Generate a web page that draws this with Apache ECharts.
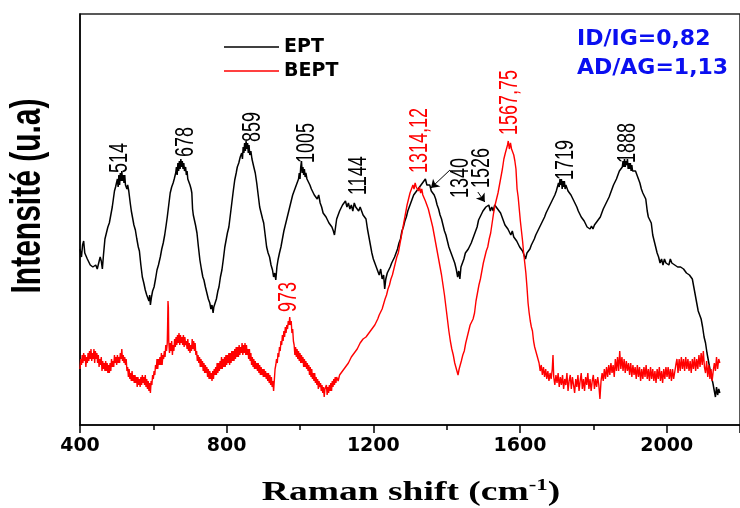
<!DOCTYPE html>
<html>
<head>
<meta charset="utf-8">
<script src="https://cdn.jsdelivr.net/npm/echarts@6/dist/echarts.min.js"></script>
<style>
  html, body { margin: 0; padding: 0; background: #fff; }
  #chart { width: 740px; height: 508px; }
</style>
</head>
<body>
<div id="chart"></div>
<script>
// Raman spectra: [shift (cm-1), intensity (a.u.)]
const ept = [
  [400,176],[404,168],[407,180],[410,184],[413,172],[416,170],[420,166],[424,164],[428,160],[431,162],
  [435,158],[439,156],[443,160],[447,156],[451,162],[455,168],[458,164],[461,156],[464,170],[468,186],
  [472,192],[476,198],[480,202],[484,210],[488,218],[491,226],[494,234],[497,238],[500,236],[502,246],
  [504,238],[506,250],[508,240],[510,252],[512,244],[514,254],[516,244],[518,250],[520,242],[522,250],
  [524,240],[526,242],[528,236],[530,240],[533,234],
  [537,222],[540,214],[543,208],[547,200],[551,195],[555,186],[559,178],[562,174],[566,160],[570,148],
  [574,142],[578,135],[582,130],[585,132],[588,124],[590,130],[592,120],[595,128],[598,134],[602,138],
  [606,146],[610,155],[614,160],[619,168],[623,176],[627,182],[631,190],[635,200],[638,208],[642,220],
  [646,232],[650,238],[654,242],[657,246],[661,252],[663,258],[665,250],[667,262],[669,254],[671,264],
  [673,256],[675,266],[677,258],[679,264],[681,256],[683,262],[685,254],[688,258],[690,250],[692,254],
  [694,246],[696,248],[700,240],[703,236],[705,232],[707,216],
  [709,210],[711,208],[715,200],[719,192],[723,178],[727,165],[731,156],[735,148],[738,145],[742,138],
  [746,132],[750,126],[754,122],[757,116],[760,120],[763,112],[765,118],[768,120],[772,126],[776,134],
  [779,138],[783,148],[787,155],[791,166],[795,178],[799,186],[802,192],[806,198],[810,210],[814,222],
  [818,234],[822,245],[826,252],[829,258],[833,262],[837,268],[841,272],[843,266],[845,278],[847,272],
  [849,282],[851,274],[853,284],[855,276],[857,282],[859,272],[861,280],[863,270],[866,274],[869,266],
  [872,266],[874,258],[878,252],[882,242],[886,230],
  [890,218],[894,212],[898,206],[901,202],[905,190],[909,178],[913,172],[917,168],[921,160],[925,155],
  [928,148],[931,152],[934,145],[937,158],[940,165],[944,172],[948,178],[952,186],[956,194],[960,200],
  [964,206],[968,212],[972,218],[976,224],[980,230],[984,234],[988,238],[992,242],[996,246],[998,252],
  [1000,246],[1002,258],[1004,264],[1006,252],[1008,258],[1010,250],[1012,256],[1014,248],[1016,252],
  [1019,246],[1023,244],[1027,240],[1031,236],
  [1035,238],[1039,230],[1043,232],[1047,226],[1051,230],[1055,222],[1059,218],[1063,212],[1067,214],[1071,208],
  [1075,206],[1079,202],[1083,204],[1087,198],[1091,194],[1094,190],[1097,198],[1100,206],[1104,210],[1108,214],
  [1112,212],[1116,220],[1120,218],[1124,224],[1128,218],[1132,222],[1136,216],[1140,220],[1144,214],[1148,222],
  [1152,218],[1156,220],[1160,214],[1164,218],[1168,214],[1172,210],[1176,212],[1180,206],[1184,196],[1188,188],
  [1192,180],[1196,172],[1200,166],[1204,162],[1208,158],[1212,154],[1216,150],[1220,156],[1224,146],[1228,150],
  [1231,136],[1234,146],[1238,152],[1242,150],[1246,158],[1250,162],[1254,164],[1258,168],[1262,170],[1266,176],
  [1270,182],[1274,186],[1278,194],[1282,198],[1286,204],[1290,208],[1294,214],[1298,216],[1302,222],[1306,224],
  [1310,230],[1314,228],[1318,234],[1322,232],[1326,238],[1330,236],[1334,242],[1338,240],[1342,246],[1346,240],
  [1350,238],[1354,240],[1358,234],[1362,235],[1366,230],[1370,226],[1374,220],[1378,216],[1382,210],[1386,206],
  [1390,200],[1394,194],[1398,190],[1402,184],[1406,178],[1410,176],[1414,170],[1418,168],[1422,162],[1426,156],
  [1430,148],[1433,154],[1436,146],[1439,158],[1443,162],[1447,166],[1451,172],[1455,170],[1459,176],[1463,178],
  [1467,182],[1471,184],[1475,190],[1479,192],[1483,198],[1487,205],[1491,208],[1495,210],[1499,214],[1503,212],
  [1507,218],[1511,216],[1515,220],[1519,214],[1523,218],[1527,214],[1531,220],[1535,218],[1539,216],[1543,214],
  [1547,212],[1551,208],[1555,206],[1559,200],[1563,202],[1567,196],[1571,198],[1575,190],[1579,194],[1583,188],
  [1587,190],[1591,184],[1595,186],[1599,178],[1603,180],[1607,174],[1611,176],[1615,166],[1619,172],[1623,174],
  [1627,176],[1631,180],[1635,182],[1639,186],[1643,190],[1647,192],[1651,196],[1655,198],[1659,202],[1663,204],
  [1667,208],[1671,212],[1675,214],[1679,218],[1683,218],[1687,224],[1691,226],[1695,230],[1699,234],[1703,236],
  [1705,242],[1707,238],[1709,246],[1711,240],[1713,246],[1715,236],[1717,244],[1719,238],[1721,244],[1723,236],
  [1725,240],[1728,238],[1731,234],[1735,232],[1739,230],[1743,228],
  [1747,224],[1751,222],[1755,218],[1759,214],[1763,212],[1767,208],[1771,206],[1775,204],[1779,202],[1783,198],
  [1787,200],[1791,196],[1795,199],[1799,196],[1803,200],[1807,202],[1811,204],[1815,206],[1819,208],[1823,212],
  [1827,216],[1831,218],[1835,222],[1839,224],[1843,228],[1847,230],[1851,236],[1855,240],[1859,242],[1863,246],
  [1867,250],[1871,254],[1875,256],[1879,258],[1881,264],[1883,258],[1885,266],[1887,258],[1889,264],[1891,260],
  [1893,266],[1895,256],[1897,262],[1899,256],[1901,262],[1903,254],[1905,260],[1907,254],[1911,252],[1915,254],
  [1919,250],[1923,246],[1927,242],[1931,236],[1935,232],[1939,230],[1943,226],
  [1947,214],[1950,208],[1954,206],[1958,202],[1962,190],[1966,184],[1970,178],[1974,172],[1978,168],[1982,162],
  [1986,166],[1990,160],[1994,166],[1998,162],[2002,164],[2006,160],[2010,166],[2014,162],[2018,164],[2022,160],
  [2026,162],[2030,158],[2034,160],[2038,158],[2042,156],[2046,156],[2050,154],[2054,152],[2058,152],[2062,150],
  [2066,148],[2070,146],[2074,138],[2078,130],[2082,122],[2086,114],[2090,110],[2094,106],[2098,98],[2102,88],
  [2106,82],[2110,72],[2114,64],[2118,56],[2122,48],[2126,42],[2130,34],[2133,28],[2136,38],[2139,30],
  [2142,36],[2145,32]
];

const bept = [
  [400,56],[402,66],[404,60],[406,70],[408,62],[410,72],[412,64],[414,70],[416,58],[418,68],
  [420,62],[422,72],[424,64],[426,74],[428,66],[430,76],[432,64],[434,72],[436,66],[438,76],
  [440,62],[442,74],[444,66],[446,72],[448,62],[450,70],[452,58],[454,66],[456,60],[458,68],
  [460,54],[462,64],[464,56],[466,62],[468,54],[470,64],[472,54],[474,62],[476,52],[478,60],
  [480,52],[482,62],[484,54],[486,66],[488,58],[490,64],[492,58],[494,70],[496,62],[498,68],
  [500,60],[502,70],[504,62],[506,68],[508,62],[510,72],[512,66],[514,76],[516,64],[518,70],
  [520,62],[522,68],[524,60],[526,66],[528,54],[530,58],[532,48],[534,56],[536,46],[538,52],
  [540,44],[542,54],[544,44],[546,50],[548,42],[550,50],[552,42],[554,48],[556,38],[558,48],
  [560,40],[562,46],[564,38],[566,48],[568,40],[570,50],[572,42],[574,48],[576,40],[578,50],
  [580,38],[582,46],[584,36],[586,44],[588,34],[590,42],[592,32],[594,44],[596,40],[598,50],
  [600,46],[602,54],[604,50],[606,60],[608,56],[610,66],[612,56],[614,66],[616,60],[618,68],
  [620,60],[622,72],[624,60],[626,70],[628,66],[630,74],[632,68],[634,80],[636,74],[638,82],
  [639,100],[640,124],[641,118],[642,84],[644,72],[646,82],[648,74],[650,84],[652,70],[654,80],
  [656,74],[658,86],[660,78],[662,88],[664,80],[666,90],[668,82],[670,92],[672,80],[674,90],
  [676,82],[678,88],[680,80],[682,90],[684,78],[686,88],[688,80],[690,84],[692,76],[694,86],
  [696,74],[698,82],[700,72],[702,80],[704,74],[706,86],[708,76],[710,84],[712,74],[714,82],
  [716,70],[718,74],[720,64],[722,70],[724,62],[726,68],[728,58],[730,66],[732,58],[734,64],
  [736,54],[738,62],[740,52],[742,60],[744,52],[746,58],[748,48],[750,56],[752,46],[754,54],
  [756,46],[758,52],[760,44],[762,54],[764,46],[766,56],[768,50],[770,58],[772,50],[774,62],
  [776,52],[778,62],[780,54],[782,64],[784,56],[786,68],[788,56],[790,66],[792,58],[794,68],
  [796,58],[798,70],[800,60],[802,70],[804,62],[806,72],[808,60],[810,72],[812,62],[814,74],
  [816,64],[818,74],[820,64],[822,76],[824,66],[826,78],[828,68],[830,78],[832,68],[834,80],
  [836,70],[838,78],[840,72],[842,82],[844,70],[846,80],[848,72],[850,82],[852,70],[854,80],
  [856,70],[858,76],[860,66],[862,76],[864,64],[866,72],[868,60],[870,68],[872,58],[874,66],
  [876,56],[878,64],[880,56],[882,62],[884,54],[886,62],[888,52],[890,60],[892,50],[894,58],
  [896,50],[898,56],[900,48],[902,56],[904,48],[906,54],[908,46],[910,52],[912,44],[914,52],
  [916,42],[918,50],[920,40],[922,48],[924,38],[926,44],[928,34],[930,36],[932,56],[934,60],
  [936,66],[938,62],[940,72],[942,68],[944,78],[946,74],[948,84],[950,80],[952,90],[954,84],
  [956,94],[958,88],[960,98],[962,92],[964,100],[966,96],[968,104],[970,100],[972,108],[974,100],
  [976,104],[978,92],[980,96],[982,84],[984,80],[986,70],[988,78],[990,68],[992,76],[994,66],
  [996,74],[998,64],[1000,72],[1002,62],[1004,70],[1006,62],[1008,68],[1010,58],[1012,66],[1014,58],
  [1016,64],[1018,56],[1020,62],[1022,54],[1024,60],[1026,50],[1028,58],[1030,48],[1032,56],[1034,46],
  [1036,52],[1038,44],[1040,52],[1042,42],[1044,48],[1046,40],[1048,46],[1050,36],[1052,44],[1054,38],
  [1056,42],[1058,34],[1060,40],[1062,32],[1064,38],[1066,28],[1068,36],[1070,34],[1072,40],[1074,30],
  [1076,38],[1078,32],[1080,40],[1082,34],[1084,42],[1086,34],[1088,44],[1090,38],[1092,46],[1094,40],
  [1096,48],[1098,42],[1100,48],
  [1104,44],[1108,50],[1112,48],
  [1116,54],[1120,52],[1124,58],[1128,56],[1132,62],[1136,64],[1140,68],[1144,66],[1148,72],[1152,74],
  [1156,76],[1160,78],[1164,82],[1168,84],[1172,86],[1176,86],[1180,88],[1184,90],[1188,92],[1192,94],
  [1196,96],[1200,98],[1204,100],[1208,102],[1212,106],[1216,110],[1220,112],[1224,116],[1228,118],[1232,126],
  [1236,130],[1240,136],[1244,140],[1248,146],[1252,150],[1256,156],[1260,162],[1264,168],[1268,172],[1272,180],
  [1276,188],[1280,196],[1284,204],[1288,212],[1292,220],[1296,226],[1300,232],[1304,236],[1308,240],[1311,236],
  [1314,242],[1317,238],[1320,240],[1323,234],[1326,238],[1329,232],[1332,236],[1335,230],[1338,232],[1342,224],
  [1346,220],[1350,216],[1354,210],[1358,204],[1362,198],[1366,190],[1370,182],[1374,174],[1378,166],[1382,158],
  [1386,150],[1390,140],[1394,130],[1398,118],[1402,106],[1406,94],[1410,84],[1414,76],[1418,70],[1422,62],
  [1425,58],[1428,54],[1431,50],[1434,56],[1437,60],[1440,64],[1444,70],[1448,74],[1452,82],[1456,88],
  [1460,94],[1464,100],[1468,102],[1472,106],[1476,112],[1480,124],[1484,132],[1488,140],[1492,146],[1496,154],
  [1500,162],[1504,168],[1508,174],[1512,178],[1516,186],[1520,192],[1524,202],[1528,212],[1532,220],[1536,226],
  [1540,232],[1544,240],[1548,248],[1552,256],[1556,266],[1560,272],[1563,276],[1566,280],[1568,284],[1571,276],
  [1574,282],[1577,276],[1580,274],[1583,270],[1586,264],[1589,256],[1592,236],[1595,228],[1598,216],[1601,204],
  [1604,194],[1607,184],[1610,172],[1613,162],[1616,152],[1619,138],[1622,122],[1625,112],[1628,104],[1631,98],
  [1634,94],[1637,84],[1640,78],[1643,74],[1646,70],[1649,66],
  [1652,62],[1655,54],[1658,60],[1661,50],[1664,58],[1667,48],[1670,56],[1673,46],[1676,54],[1679,44],
  [1682,52],[1685,46],[1688,56],[1690,70],[1692,48],[1695,40],[1698,50],[1701,42],[1704,52],[1707,38],
  [1710,48],[1713,40],[1716,50],[1719,36],[1722,46],[1725,40],[1728,52],[1731,34],[1734,44],[1737,50],
  [1740,36],[1743,48],[1746,40],[1749,32],[1752,46],[1755,38],[1758,50],[1761,34],[1764,44],[1767,52],
  [1770,36],[1773,46],[1776,34],[1779,48],[1782,40],[1785,52],[1788,36],[1791,46],[1794,34],[1797,44],
  [1800,50],[1803,36],[1806,46],[1809,38],[1812,48],[1815,40],[1818,26],[1821,44],[1824,52],[1827,44],
  [1830,56],[1833,46],[1836,58],[1839,48],[1842,60],[1845,50],[1848,62],[1851,52],[1854,60],[1857,48],
  [1860,66],[1863,54],[1866,68],[1869,54],[1872,74],[1875,56],[1878,68],[1881,54],[1884,66],[1887,52],
  [1890,64],[1893,54],[1896,62],[1899,50],[1902,62],[1905,48],[1908,60],[1911,50],[1914,58],[1917,46],
  [1920,60],[1923,48],[1926,58],[1929,44],[1932,56],[1935,46],[1938,58],[1941,48],[1944,60],[1947,46],
  [1950,56],[1953,44],[1956,58],[1959,46],[1962,56],[1965,44],[1968,54],[1971,42],[1974,56],[1977,46],
  [1980,58],[1983,44],[1986,54],[1989,42],[1992,56],[1995,46],[1998,58],[2001,48],[2004,58],[2007,46],
  [2010,56],[2013,44],[2016,56],[2019,46],[2022,44],[2025,60],[2028,66],[2031,52],[2034,66],[2037,54],
  [2040,68],[2043,56],[2046,66],[2049,54],[2052,68],[2055,56],[2058,66],[2061,54],[2064,64],[2067,52],
  [2070,66],[2073,56],[2076,68],[2079,54],[2082,66],[2085,56],[2088,70],[2091,58],[2094,72],[2097,60],
  [2100,74],[2103,58],[2106,52],[2109,64],[2112,48],[2115,60],[2118,46],[2121,56],[2124,44],[2127,54],
  [2130,62],[2133,54],[2136,68],[2139,56],[2142,66],[2145,62]
];

// Peak positions (cm-1) and the intensity level where each label starts
const eptPeaks = [514, 678, 859, 1005, 1144, 1340, 1526, 1719, 1888];
const eptPeakLabelY = [252, 268, 283, 262, 230, 227, 237, 245, 262];
const beptPeaks = [973, 1314.12, 1567.75];
const beptPeakLabelY = [113, 252, 290];

// Annotation arrows pointing at the 1340 and 1526 bands: [from, to]
const peakArrows = [
  [[1409, 255], [1357, 237]],
  [[1485, 233], [1504, 223]]
];

const ratioLines = ['ID/IG=0,82', 'AD/AG=1,13'];
const xTicks = { min: 400, max: 2200, interval: 400 };

// horizontal pixel nudges for the rotated peak labels
const eptLabelDx = [-2, 4, 5, 5, 6, 36, -11, 2, 2];
const beptLabelDx = [-1, 5, 2];

const chart = echarts.init(document.getElementById('chart'), null, { renderer: 'canvas' });

const option = {
  animation: false,
  backgroundColor: '#ffffff',
  title: {
    text: ratioLines.join('\n'),
    left: 577,
    top: 25,
    padding: 0,
    textStyle: {
      fontFamily: 'DejaVu Sans',
      fontWeight: 'bold',
      fontSize: 22,
      lineHeight: 29,
      color: '#0a0ff0'
    }
  },
  legend: {
    orient: 'vertical',
    left: 219,
    top: 32,
    itemGap: 4,
    itemWidth: 55,
    itemHeight: 1.5,
    icon: 'rect',
    textStyle: {
      fontFamily: 'DejaVu Sans',
      fontWeight: 'bold',
      fontSize: 19,
      lineHeight: 20,
      color: '#000'
    },
    data: ['EPT', 'BEPT']
  },
  grid: {
    left: 80,
    top: 14,
    bottom: 83,
    right: -3,
    show: true,
    borderColor: '#222',
    borderWidth: 1.5
  },
  xAxis: {
    type: 'value',
    min: xTicks.min,
    max: xTicks.max,
    interval: xTicks.interval,
    axisLine: { show: true, lineStyle: { color: '#000', width: 1.5 } },
    axisTick: { show: true, length: 8, lineStyle: { color: '#000', width: 1.5 } },
    minorTick: { show: true, splitNumber: 2, length: 5, lineStyle: { color: '#000', width: 1.5 } },
    splitLine: { show: false },
    axisLabel: {
      margin: 12,
      showMaxLabel: false,
      fontFamily: 'DejaVu Sans',
      fontWeight: 'bold',
      fontSize: 19,
      color: '#000',
      formatter: v => (v >= xTicks.max ? '' : String(v))
    }
  },
  yAxis: {
    type: 'value',
    min: 0,
    max: 411,
    axisLine: { show: true, lineStyle: { color: '#000', width: 1.5 } },
    axisTick: { show: false },
    axisLabel: { show: false },
    splitLine: { show: false }
  },
  series: [
    {
      name: 'EPT',
      type: 'line',
      data: ept,
      showSymbol: false,
      symbol: 'none',
      color: '#000000',
      lineStyle: { color: '#000000', width: 1.5 },
      markLine: {
        silent: true,
        symbol: ['none', 'arrow'],
        symbolSize: 8,
        label: { show: false },
        lineStyle: { color: '#000', width: 1, type: 'solid' },
        data: peakArrows.map(([a, b]) => [{ coord: a }, { coord: b }])
      }
    },
    {
      name: 'BEPT',
      type: 'line',
      data: bept,
      showSymbol: false,
      symbol: 'none',
      color: '#ff0000',
      lineStyle: { color: '#ff0000', width: 1.4 }
    }
  ]
};

chart.setOption(option);

// Rotated peak labels, anchored at each band position
function peakLabel(value, y, dx, color) {
  const [px, py] = chart.convertToPixel({ gridIndex: 0 }, [value, y]);
  return {
    type: 'text',
    x: px + dx,
    y: py,
    rotation: Math.PI / 2,
    scaleY: 1.4,
    z: 10,
    style: {
      text: String(value).replace('.', ','),
      font: '18px "Liberation Sans", Arial, sans-serif',
      fill: color,
      align: 'left',
      verticalAlign: 'middle'
    }
  };
}

const labels = [];
eptPeaks.forEach((v, i) => labels.push(peakLabel(v, eptPeakLabelY[i], eptLabelDx[i], '#000')));
beptPeaks.forEach((v, i) => labels.push(peakLabel(v, beptPeakLabelY[i], beptLabelDx[i], '#ff0000')));

// Axis titles
labels.push({
  type: 'text',
  x: 28,
  y: 196,
  rotation: Math.PI / 2,
  scaleY: 1.4,
  style: {
    text: 'Intensité (u.a)',
    font: 'bold 30px "Liberation Sans", Arial, sans-serif',
    fill: '#000',
    align: 'center',
    verticalAlign: 'middle'
  }
});
labels.push({
  type: 'text',
  x: 411,
  y: 493,
  scaleX: 1.34,
  style: {
    text: '{a|Raman shift (cm}{s|-1}{a|)}',
    rich: {
      a: { font: 'bold 28px "Liberation Serif", "Times New Roman", serif', fill: '#000', lineHeight: 32 },
      s: { font: 'bold 17px "Liberation Serif", "Times New Roman", serif', fill: '#000', verticalAlign: 'top', lineHeight: 32 }
    },
    align: 'center',
    verticalAlign: 'middle'
  }
});

chart.setOption({ graphic: labels });
</script>
</body>
</html>
